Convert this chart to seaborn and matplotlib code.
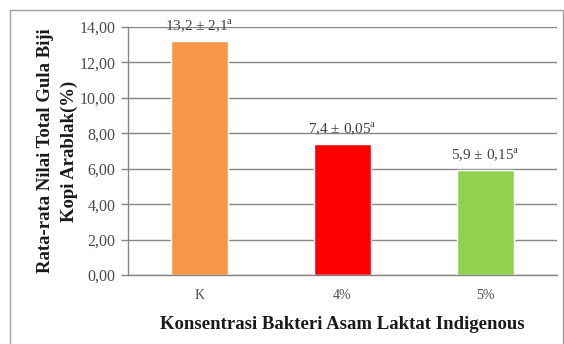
import matplotlib
matplotlib.use("Agg")
import matplotlib.pyplot as plt
import seaborn as sns
import pandas as pd
from matplotlib.patches import Rectangle

categories = ["K", "4%", "5%"]
values = [13.2, 7.4, 5.9]
labels = ["13,2 ± 2,1$^{\\mathrm{a}}$", "7,4 ± 0,05$^{\\mathrm{a}}$", "5,9 ± 0,15$^{\\mathrm{a}}$"]
colors = ["#F79646", "#FF0000", "#92D050"]
yticks = [0, 2, 4, 6, 8, 10, 12, 14]
ytick_labels = ["0,00", "2,00", "4,00", "6,00", "8,00", "10,00", "12,00", "14,00"]

sns.set_theme(style="white")
plt.rcParams['font.family'] = ['Liberation Serif', 'DejaVu Serif']
plt.rcParams['mathtext.fontset'] = 'custom'
plt.rcParams['mathtext.rm'] = 'Liberation Serif'

df = pd.DataFrame({"cat": categories, "val": values})

fig = plt.figure(figsize=(5.64, 3.44), dpi=100)
ax = fig.add_axes([128/564, 1 - 275/344, (557-128)/564, (275-27)/344])

sns.barplot(data=df, x="cat", y="val", hue="cat", palette=colors, legend=False,
            width=0.4, ax=ax, saturation=1)

ax.set_ylim(0, 14)
ax.set_xlim(-0.5, 2.5)
ax.set_yticks(yticks)
ax.set_yticklabels(ytick_labels, fontsize=11.5, color="#4a4a4a")
ax.tick_params(axis="y", length=5, color="#868686", width=1, direction="out", left=True, pad=4)
ax.tick_params(axis="x", length=0, labelsize=10, labelcolor="#4a4a4a", pad=10)
ax.yaxis.grid(True, color="#868686", linewidth=1)
ax.set_axisbelow(True)
for s in ["top", "right"]:
    ax.spines[s].set_visible(False)
for s in ["left", "bottom"]:
    ax.spines[s].set_color("#868686")
    ax.spines[s].set_linewidth(1)
ax.set_xticks([0.5, 1.5], minor=True)
ax.tick_params(axis="x", which="minor", length=4, color="#868686", direction="out")

for i, (v, lab) in enumerate(zip(values, labels)):
    ax.text(i, v + 0.35, lab, ha="center", va="bottom", fontsize=11, color="#404040")

ax.set_xlabel("Konsentrasi Bakteri Asam Laktat Indigenous", fontsize=13.5,
              fontweight="bold", labelpad=10, color="#1a1a1a")
ax.set_ylabel("Rata-rata Nilai Total Gula Biji\nKopi Arablak(%)", fontsize=13.5,
              fontweight="bold", labelpad=1, linespacing=1.5, color="#1a1a1a")

fig.patches.append(Rectangle((10/564, -0.01), 553/564, 1 - 10/344 + 0.01,
                             transform=fig.transFigure, fill=False,
                             edgecolor="#A0A0A0", linewidth=1))

fig.savefig("out.png", dpi=100)
